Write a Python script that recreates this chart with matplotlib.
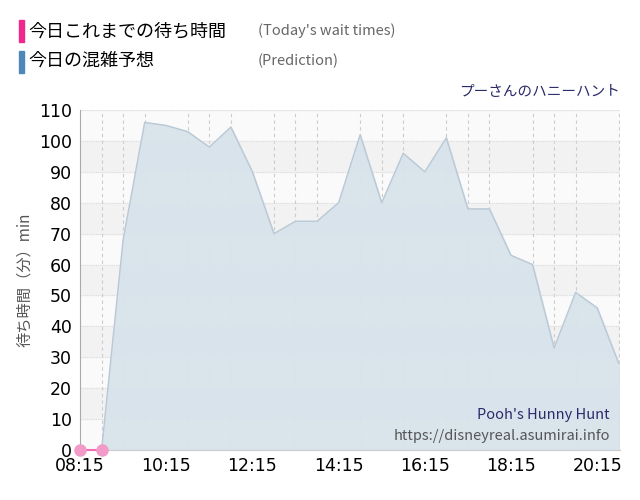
import matplotlib
matplotlib.use("Agg")
import matplotlib.pyplot as plt
from matplotlib.patches import Rectangle

plt.rcParams['font.family'] = ['Noto Sans CJK JP', 'DejaVu Sans']

times = ["08:15","08:45","09:15","09:45","10:15","10:45","11:15","11:45","12:15","12:45",
         "13:15","13:45","14:15","14:45","15:15","15:45","16:15","16:45","17:15","17:45",
         "18:15","18:45","19:15","19:45","20:15","20:45"]
prediction = [0,0,68,106,105,103,98,104.5,90,70,74,74,80,102,80,96,90,101,78,78,63,60,33,51,46,28]
actual_times = ["08:15","08:45"]
actual = [0,0]
tick_labels = ["08:15","10:15","12:15","14:15","16:15","18:15","20:15"]
yticks = list(range(0,111,10))

def tm(s):
    h, m = s.split(":")
    return int(h) + int(m)/60

fig = plt.figure(figsize=(6.4,5.0), dpi=100)
ax = fig.add_axes([80/640, 50/500, 540/640, 340/500])
x = [tm(t) for t in times]
ax.set_xlim(tm("08:15"), tm("20:45") + 0.03)
ax.set_ylim(0, 110)
for i in range(0, 110, 20):
    ax.axhspan(i+10, i+20, color='#f2f2f2', zorder=0)
ax.set_facecolor('#fafafa')
ax.fill_between(x, prediction, color='#d8e3eb', zorder=2, alpha=0.95)
ax.plot(x, prediction, color='#b9c9d5', lw=1, zorder=3)
ax.grid(axis='y', color='#dddddd', lw=0.8, linestyle=(0,(1,1)), zorder=1)
ax.set_xticks([tm(t) for t in times], minor=True)
ax.grid(axis='x', which='minor', color='#cccccc', lw=0.8, linestyle=(0,(3,3)), zorder=1)
ax.set_xticks([tm(t) for t in tick_labels])
ax.set_xticklabels(tick_labels, fontsize=12.5, family=['DejaVu Sans'])
ax.set_yticks(yticks)
ax.set_yticklabels([str(v) for v in yticks], fontsize=12.5, family=['DejaVu Sans'])
ax.tick_params(axis='x', length=0, pad=5)
ax.tick_params(axis='y', length=0, pad=6)
ax.tick_params(which='minor', length=0)
for s in ['top','right']:
    ax.spines[s].set_visible(False)
ax.spines['left'].set_color('#aaaaaa')
ax.spines['bottom'].set_color('#cccccc')
ax.plot([tm(t) for t in actual_times], actual, color='#f06fb4', lw=1.5, zorder=5,
        marker='o', markersize=8, markerfacecolor='#f29ac8', markeredgecolor='#f29ac8', clip_on=False)
ax.set_ylabel("待ち時間（分）min", fontsize=11, color='#555555', labelpad=4)

fig.patches.append(Rectangle((19/640, 1-42/500), 5/640, 22/500, transform=fig.transFigure, color='#f0288c'))
fig.patches.append(Rectangle((19/640, 1-73/500), 5/640, 22/500, transform=fig.transFigure, color='#4e88bb'))
fig.text(28/640, 1-31/500, "今日これまでの待ち時間", fontsize=13, va='center')
fig.text(28/640, 1-61/500, "今日の混雑予想", fontsize=13, va='center')
fig.text(258/640, 1-31/500, "(Today's wait times)", fontsize=10.5, va='center', color='#666666')
fig.text(258/640, 1-61/500, "(Prediction)", fontsize=10.5, va='center', color='#666666')
fig.text(620/640, 1-92/500, "プーさんのハニーハント", fontsize=10.5, va='center', ha='right', color='#2a2a6a')
fig.text(610/640, 1-415/500, "Pooh's Hunny Hunt", fontsize=10.5, va='center', ha='right', color='#2a2a6a')
fig.text(610/640, 1-436/500, "https://disneyreal.asumirai.info", fontsize=10.5, va='center', ha='right', color='#555555')
fig.savefig("out.png", dpi=100)
